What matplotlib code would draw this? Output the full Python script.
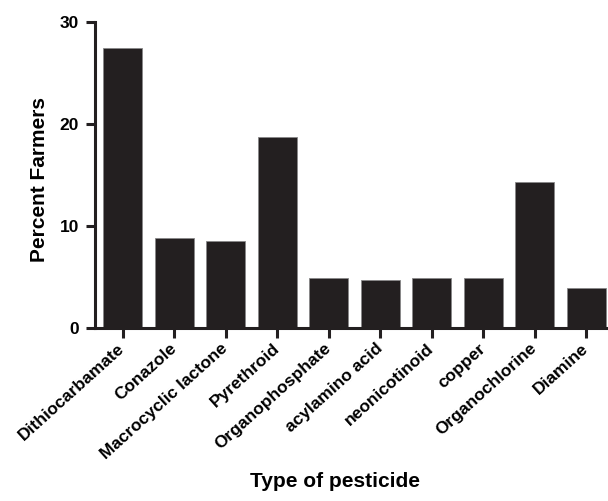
import matplotlib
matplotlib.use("Agg")
import matplotlib.pyplot as plt
from matplotlib.transforms import ScaledTranslation

pesticides = ["Dithiocarbamate", "Conazole", "Macrocyclic lactone", "Pyrethroid",
              "Organophosphate", "acylamino acid", "neonicotinoid", "copper",
              "Organochlorine", "Diamine"]
percent = [27.45, 8.8, 8.55, 18.7, 4.96, 4.74, 4.96, 4.96, 14.35, 3.92]
yticks = [0, 10, 20, 30]

plt.rcParams['font.family'] = ['Liberation Sans', 'DejaVu Sans']
plt.rcParams['font.weight'] = 'bold'

fig = plt.figure(figsize=(6.08, 5.01), dpi=100)
ax = fig.add_axes([0.156, 0.345, 0.842, 0.611])

dark = "#231f20"
x = range(len(pesticides))
ax.bar(x, percent, width=0.76, color=dark, edgecolor="#888888", linewidth=0.6)

ax.set_xlim(-0.54, len(pesticides) - 0.6)
ax.set_ylim(0, 30)
ax.set_yticks(yticks)
ax.set_xticks(list(x))
ax.set_xticklabels(pesticides, rotation=42, ha="right", va="center",
                   rotation_mode="anchor", fontsize=12.5, fontweight="bold")
# nudge the rotated labels a little to the right, like the original
shift = ScaledTranslation(4 / 72, 0, fig.dpi_scale_trans)
for lbl in ax.get_xticklabels():
    lbl.set_transform(lbl.get_transform() + shift)
ax.tick_params(axis="y", labelsize=12.5, width=2.2, length=6.5, color=dark, pad=5)
ax.tick_params(axis="x", width=2.2, length=7, color=dark, pad=6)
for lbl in ax.get_yticklabels():
    lbl.set_fontweight("bold")

for side in ["top", "right"]:
    ax.spines[side].set_visible(False)
for side in ["left", "bottom"]:
    ax.spines[side].set_linewidth(2.2)
    ax.spines[side].set_color(dark)

ax.set_ylabel("Percent Farmers", fontsize=15, fontweight="bold", va="center")
ax.yaxis.set_label_coords(-0.108, 0.485)
ax.set_xlabel("Type of pesticide", fontsize=15, fontweight="bold", va="center")
ax.xaxis.set_label_coords(0.469, -0.5)

fig.savefig("out.png", dpi=100)
